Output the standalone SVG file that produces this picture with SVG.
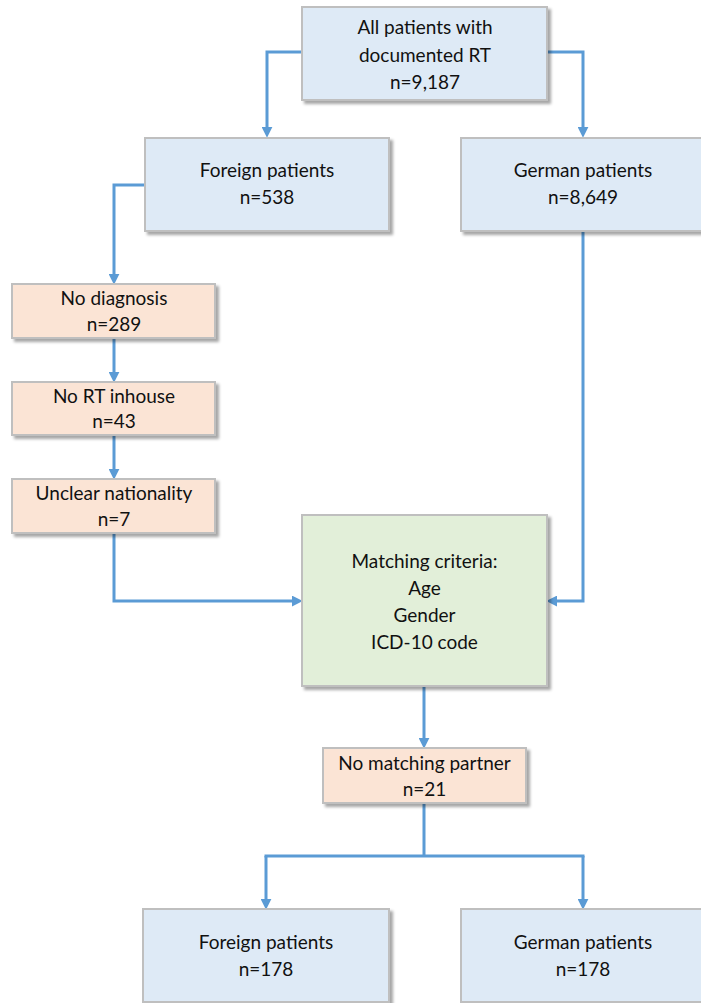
<svg xmlns="http://www.w3.org/2000/svg" width="701" height="1003" viewBox="0 0 701 1003">
<style>
.box{stroke:#bfbfbf;stroke-width:2;filter:url(#sh)}
.blue{fill:#deeaf6}
.peach{fill:#fbe4d5}
.green{fill:#e2efd9}
.t{font-family:Lato,"Liberation Sans",sans-serif;font-size:19px;fill:#111;text-anchor:middle}
.l{fill:none;stroke:#5b9bd5;stroke-width:3}
.c{fill:none;stroke:#5b9bd5;stroke-width:3;marker-end:url(#ah)}
</style>
<defs>
<filter id="sh" x="-10%" y="-10%" width="130%" height="130%">
<feDropShadow dx="3" dy="3" stdDeviation="1.8" flood-color="#000" flood-opacity="0.35"/>
</filter>
<marker id="ah" viewBox="0 0 10 10" refX="2" refY="5" markerWidth="11" markerHeight="11" markerUnits="userSpaceOnUse" orient="auto">
<path d="M0,0 L10,5 L0,10 z" fill="#5b9bd5"/>
</marker>
</defs>
<g id="connectors">
<path class="c" d="M302,52 H267 V129"/>
<path class="c" d="M547,52 H583 V129"/>
<path class="c" d="M145,185 H114 V276"/>
<path class="c" d="M114,338 V374"/>
<path class="c" d="M114,435 V471"/>
<path class="c" d="M114,533 V601 H294"/>
<path class="c" d="M583,231 V601 H555"/>
<path class="c" d="M424,686 V740"/>
<path class="l" d="M424,803 V856 M264.5,856 H584.5"/>
<path class="c" d="M266,856 V901"/>
<path class="c" d="M583,856 V901"/>
</g>
<g id="n_all"><rect class="box blue" x="302" y="7" width="245" height="93"/>
<text class="t" x="425" y="34">All patients with</text><text class="t" x="425" y="62">documented RT</text><text class="t" x="425" y="89">n=9,187</text></g>
<g id="n_foreign"><rect class="box blue" x="145" y="138" width="244" height="93"/>
<text class="t" x="267" y="177">Foreign patients</text><text class="t" x="267" y="204">n=538</text></g>
<g id="n_german"><rect class="box blue" x="461" y="138" width="244" height="93"/>
<text class="t" x="583" y="177">German patients</text><text class="t" x="583" y="204">n=8,649</text></g>
<g id="n_nodiag"><rect class="box peach" x="12" y="284" width="203" height="54"/>
<text class="t" x="114" y="305">No diagnosis</text><text class="t" x="114" y="331">n=289</text></g>
<g id="n_nort"><rect class="box peach" x="12" y="382" width="203" height="53"/>
<text class="t" x="114" y="403">No RT inhouse</text><text class="t" x="114" y="428">n=43</text></g>
<g id="n_unclear"><rect class="box peach" x="12" y="479" width="203" height="54"/>
<text class="t" x="114" y="500">Unclear nationality</text><text class="t" x="114" y="526">n=7</text></g>
<g id="n_match"><rect class="box green" x="302" y="515" width="245" height="171"/>
<text class="t" x="424.5" y="568">Matching criteria:</text><text class="t" x="424.5" y="595">Age</text><text class="t" x="424.5" y="622">Gender</text><text class="t" x="424.5" y="649">ICD-10 code</text></g>
<g id="n_nomatch"><rect class="box peach" x="323" y="748" width="203" height="55"/>
<text class="t" x="424.5" y="770">No matching partner</text><text class="t" x="424.5" y="796">n=21</text></g>
<g id="n_foreign2"><rect class="box blue" x="143" y="909" width="246" height="93"/>
<text class="t" x="266" y="949">Foreign patients</text><text class="t" x="266" y="976">n=178</text></g>
<g id="n_german2"><rect class="box blue" x="461" y="909" width="244" height="93"/>
<text class="t" x="583" y="949">German patients</text><text class="t" x="583" y="976">n=178</text></g>
</svg>
